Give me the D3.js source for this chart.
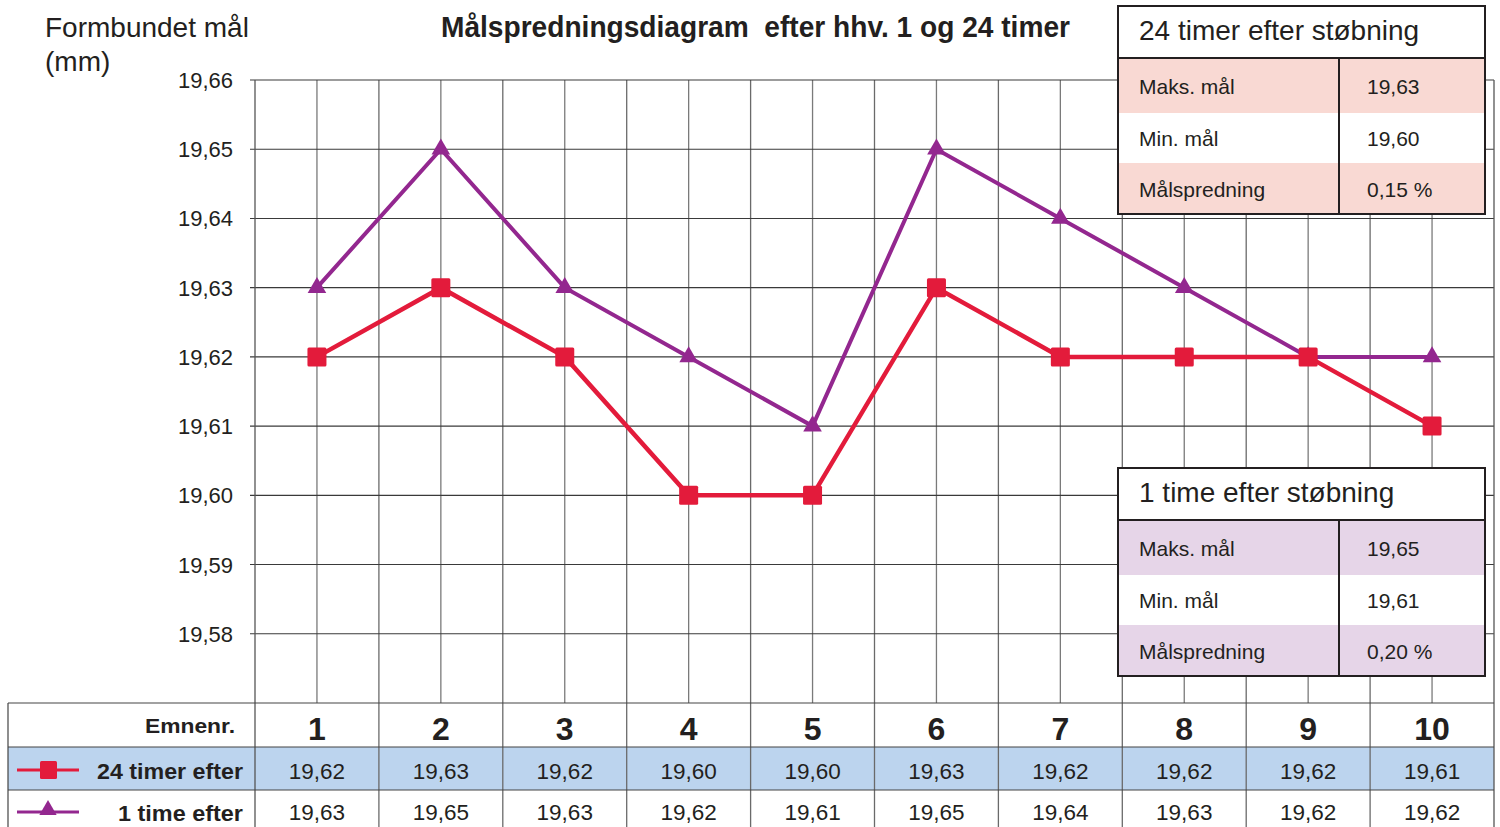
<!DOCTYPE html>
<html><head><meta charset="utf-8">
<script src="https://cdn.jsdelivr.net/npm/d3@7"></script>
<style>html,body{margin:0;padding:0;background:#fff;}svg{display:block;font-family:"Liberation Sans",Arial,Helvetica,sans-serif;}</style>
</head><body><svg id="c" width="1500" height="827"></svg>
<script>
const categories = ["1","2","3","4","5","6","7","8","9","10"];
const series24 = [19.62,19.63,19.62,19.60,19.60,19.63,19.62,19.62,19.62,19.61];
const series1  = [19.63,19.65,19.63,19.62,19.61,19.65,19.64,19.63,19.62,19.62];
const yTicks = [19.58,19.59,19.60,19.61,19.62,19.63,19.64,19.65,19.66];
const seriesNames = ["24 timer efter","1 time efter"];
const statLabels = ["Maks. mål","Min. mål","Målspredning"];
const stats24 = ["19,63","19,60","0,15 %"];
const stats1  = ["19,65","19,61","0,20 %"];
const titles = ["24 timer efter støbning","1 time efter støbning"];

const RED="#e31b3b", PURPLE="#93278f", INK="#231f20";
const loc = d3.formatLocale({decimal:",",thousands:".",grouping:[3],currency:["",""]});
const fmt = loc.format(".2f");

const svg = d3.select("#c");
const x = d3.scaleBand().domain(categories).range([255,1494]);
const y = d3.scaleLinear().domain([19.57,19.66]).range([703,80]);
const cx = d => x(d)+x.bandwidth()/2;

// table backgrounds
svg.append("rect").attr("x",8).attr("y",747).attr("width",1486).attr("height",43).attr("fill","#bcd4ee");

const g = svg.append("g");
g.selectAll("line.vc").data(categories).join("line")
  .attr("x1",cx).attr("x2",cx).attr("y1",80).attr("y2",703)
  .attr("stroke","#7a7a7a").attr("stroke-width",1.3);
const bounds = categories.slice(1).map(c=>x(c));
g.selectAll("line.vb").data(bounds).join("line")
  .attr("x1",d=>d).attr("x2",d=>d).attr("y1",80).attr("y2",827)
  .attr("stroke","#6a6a6a").attr("stroke-width",1.3);
g.selectAll("line.h").data(yTicks).join("line")
  .attr("x1",250).attr("x2",1494).attr("y1",d=>y(d)).attr("y2",d=>y(d))
  .attr("stroke","#3a3a3a").attr("stroke-width",1.1);
g.append("line").attr("x1",255).attr("x2",255).attr("y1",80).attr("y2",827).attr("stroke","#555").attr("stroke-width",1.3);
g.append("line").attr("x1",1494).attr("x2",1494).attr("y1",80).attr("y2",827).attr("stroke","#555").attr("stroke-width",1.3);
[703,747,790].forEach(yy=>g.append("line").attr("x1",8).attr("x2",1494).attr("y1",yy).attr("y2",yy).attr("stroke","#444").attr("stroke-width",1.2));
g.append("line").attr("x1",8).attr("x2",8).attr("y1",703).attr("y2",827).attr("stroke","#444").attr("stroke-width",1.2);

// y tick labels
svg.selectAll("text.yt").data(yTicks).join("text")
  .attr("x",233).attr("y",d=>y(d)+8).attr("text-anchor","end")
  .attr("font-size",22).attr("fill",INK).text(d=>fmt(d));

// axis title
svg.append("text").attr("x",45).attr("y",37).attr("font-size",28).attr("fill",INK).text("Formbundet mål");
svg.append("text").attr("x",45).attr("y",71).attr("font-size",28).attr("fill",INK).text("(mm)");
// chart title
svg.append("text").attr("x",441).attr("y",37).attr("font-size",29).attr("font-weight","bold").attr("fill",INK)
  .attr("textLength",629).attr("lengthAdjust","spacingAndGlyphs")
  .attr("xml:space","preserve").style("white-space","pre").text("Målspredningsdiagram  efter hhv. 1 og 24 timer");

// lines
const line = d3.line().x((d,i)=>cx(categories[i])).y(d=>y(d));
svg.append("path").datum(series1).attr("d",line).attr("fill","none").attr("stroke",PURPLE).attr("stroke-width",4).attr("stroke-linejoin","miter");
svg.append("path").datum(series24).attr("d",line).attr("fill","none").attr("stroke",RED).attr("stroke-width",4.5).attr("stroke-linejoin","miter");
const tri = d3.symbol().type(d3.symbolTriangle).size(150);
svg.selectAll("path.t").data(series1).join("path")
  .attr("transform",(d,i)=>`translate(${cx(categories[i])},${y(d)})`).attr("d",tri).attr("fill",PURPLE);
svg.selectAll("rect.s").data(series24).join("rect")
  .attr("x",(d,i)=>cx(categories[i])-9.5).attr("y",d=>y(d)-9.5).attr("width",19).attr("height",19).attr("rx",1.5).attr("fill",RED);

// table text
svg.append("text").attr("x",235).attr("y",733).attr("text-anchor","end").attr("font-size",20).attr("font-weight","bold").attr("fill",INK)
  .attr("textLength",90).attr("lengthAdjust","spacingAndGlyphs").text("Emnenr.");
svg.selectAll("text.cat").data(categories).join("text")
  .attr("x",cx).attr("y",740).attr("text-anchor","middle").attr("font-size",32).attr("font-weight","bold").attr("fill",INK).text(d=>d);
svg.selectAll("text.v24").data(series24).join("text")
  .attr("x",(d,i)=>cx(categories[i])).attr("y",779).attr("text-anchor","middle").attr("font-size",22.5).attr("fill",INK).text(d=>fmt(d));
svg.selectAll("text.v1").data(series1).join("text")
  .attr("x",(d,i)=>cx(categories[i])).attr("y",820).attr("text-anchor","middle").attr("font-size",22.5).attr("fill",INK).text(d=>fmt(d));
svg.append("text").attr("x",243).attr("y",779).attr("text-anchor","end").attr("font-size",22).attr("font-weight","bold").attr("fill",INK)
  .attr("textLength",146).attr("lengthAdjust","spacingAndGlyphs").text(seriesNames[0]);
svg.append("text").attr("x",243).attr("y",821).attr("text-anchor","end").attr("font-size",22).attr("font-weight","bold").attr("fill",INK)
  .attr("textLength",125).attr("lengthAdjust","spacingAndGlyphs").text(seriesNames[1]);
// legend symbols
svg.append("line").attr("x1",17).attr("x2",79).attr("y1",770).attr("y2",770).attr("stroke",RED).attr("stroke-width",3);
svg.append("rect").attr("x",40).attr("y",761).attr("width",17).attr("height",18).attr("rx",1.5).attr("fill",RED);
svg.append("line").attr("x1",17).attr("x2",79).attr("y1",812).attr("y2",812).attr("stroke",PURPLE).attr("stroke-width",3);
svg.append("path").attr("transform","translate(48,810)").attr("d",d3.symbol().type(d3.symbolTriangle).size(130)).attr("fill",PURPLE);

// inset boxes
function inset(y0, title, vals, shade){
  const gx = svg.append("g");
  const X0=1118, X1=1485, XD=1339;
  gx.append("rect").attr("x",X0).attr("y",y0).attr("width",X1-X0).attr("height",208).attr("fill","#fff");
  const rowsY=[y0+52,y0+107,y0+157,y0+208];
  const fills=[shade,"#fff",shade];
  statLabels.forEach((lab,i)=>{
    gx.append("rect").attr("x",X0).attr("y",rowsY[i]).attr("width",X1-X0).attr("height",rowsY[i+1]-rowsY[i]).attr("fill",fills[i]);
    const ty=(rowsY[i]+rowsY[i+1])/2+8;
    gx.append("text").attr("x",1139).attr("y",ty).attr("font-size",21).attr("fill",INK).text(lab);
    gx.append("text").attr("x",1367).attr("y",ty).attr("font-size",21).attr("fill",INK).text(vals[i]);
  });
  gx.append("text").attr("x",1139).attr("y",y0+34).attr("font-size",28).attr("fill",INK).text(title);
  gx.append("rect").attr("x",X0).attr("y",y0).attr("width",X1-X0).attr("height",208).attr("fill","none").attr("stroke",INK).attr("stroke-width",2);
  gx.append("line").attr("x1",X0).attr("x2",X1).attr("y1",y0+52).attr("y2",y0+52).attr("stroke",INK).attr("stroke-width",2);
  gx.append("line").attr("x1",XD).attr("x2",XD).attr("y1",y0+52).attr("y2",y0+208).attr("stroke",INK).attr("stroke-width",2);
}
inset(6, titles[0], stats24, "#f9d9d3");
inset(468, titles[1], stats1, "#e6d5e8");
</script></body></html>
